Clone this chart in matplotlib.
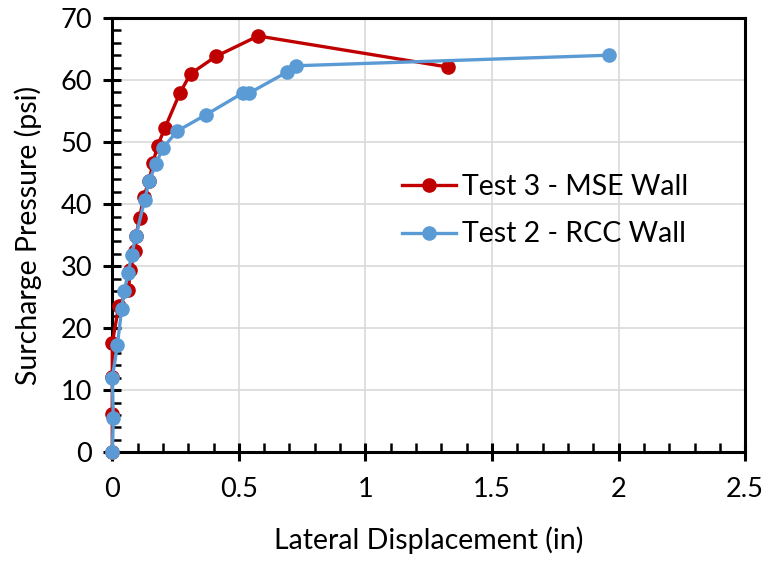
import matplotlib.pyplot as plt
from matplotlib.ticker import MultipleLocator

# Test 3 - MSE Wall
mse_x = [0, 0, 0, 0.0, 0.025, 0.064, 0.071, 0.091, 0.093, 0.108, 0.124, 0.146,
         0.16, 0.179, 0.208, 0.267, 0.309, 0.409, 0.576, 1.325]
mse_y = [0, 6.2, 12.2, 17.6, 23.5, 26.2, 29.4, 32.4, 34.8, 37.8, 41.2, 43.8,
         46.6, 49.4, 52.3, 57.9, 61.0, 63.8, 67.1, 62.1]

# Test 2 - RCC Wall
rcc_x = [0, 0.004, 0.0, 0.02, 0.037, 0.047, 0.063, 0.076, 0.093, 0.128, 0.146,
         0.172, 0.199, 0.257, 0.37, 0.515, 0.541, 0.691, 0.727, 1.962]
rcc_y = [0, 5.5, 11.9, 17.3, 23.1, 26.0, 28.9, 31.8, 34.8, 40.7, 43.8,
         46.4, 49.0, 51.8, 54.4, 57.9, 57.9, 61.3, 62.3, 64.0]

plt.rcParams['font.family'] = ['Lato', 'DejaVu Sans']

fig = plt.figure(figsize=(7.66, 5.62), dpi=100)
ax = fig.add_axes([0.1466, 0.1952, 0.8262, 0.7728])

ax.plot(mse_x, mse_y, color='#C00000', lw=2.4, marker='o', ms=9.5,
        label='Test 3 - MSE Wall', zorder=3, clip_on=False)
ax.plot(rcc_x, rcc_y, color='#5B9BD5', lw=2.4, marker='o', ms=9.5,
        label='Test 2 - RCC Wall', zorder=4, clip_on=False)

ax.set_xlim(0, 2.5)
ax.set_ylim(0, 70)
ax.xaxis.set_major_locator(MultipleLocator(0.5))
ax.xaxis.set_minor_locator(MultipleLocator(0.1))
ax.yaxis.set_major_locator(MultipleLocator(10))
ax.yaxis.set_minor_locator(MultipleLocator(2))
ax.set_xticks([0, 0.5, 1, 1.5, 2, 2.5])
ax.set_xticklabels(['0', '0.5', '1', '1.5', '2', '2.5'])

ax.grid(True, which='major', color='#D9D9D9', lw=1.2)
ax.set_axisbelow(True)
for s in ax.spines.values():
    s.set_linewidth(2.2)
    s.set_color('black')

ax.tick_params(axis='x', which='major', pad=11)
ax.tick_params(axis='y', which='major', pad=8)
ax.tick_params(which='major', direction='inout', length=13, width=2.2,
               labelsize=19.5, top=False, right=False)
ax.tick_params(which='minor', direction='in', length=6.5, width=1.8,
               top=False, right=False)

ax.set_xlabel('Lateral Displacement (in)', fontsize=20.5, labelpad=18)
ax.set_ylabel('Surcharge Pressure (psi)', fontsize=20.5, labelpad=13)

ax.legend(loc='center left', bbox_to_anchor=(0.458, 0.556), frameon=False,
          fontsize=20.5, handlelength=1.9, handletextpad=0.2, labelspacing=0.75,
          borderaxespad=0, borderpad=0)

plt.savefig('out.png', dpi=100)
